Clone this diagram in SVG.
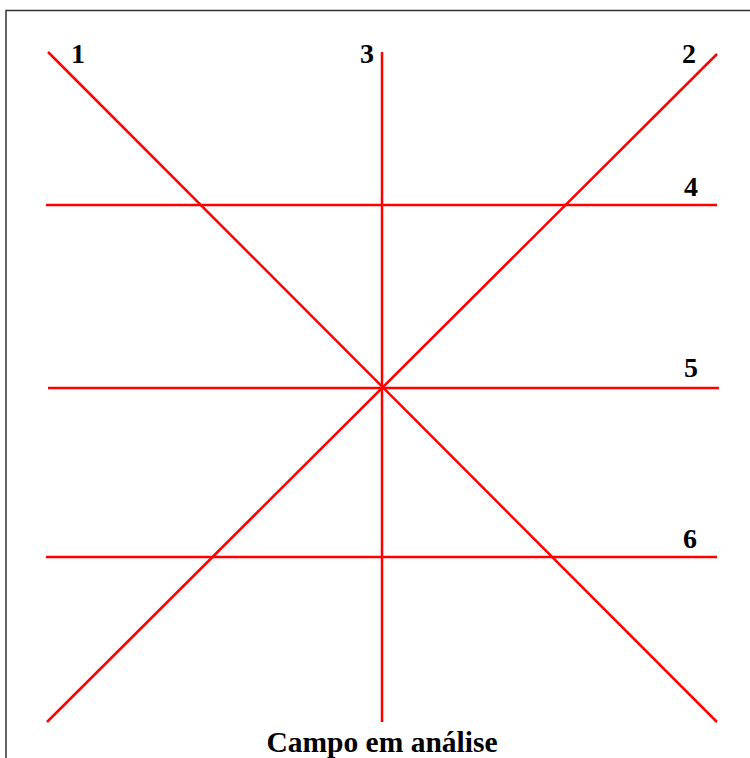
<svg xmlns="http://www.w3.org/2000/svg" width="750" height="758" viewBox="0 0 750 758">
<style>
.ln{stroke:#ff0000;stroke-width:2.5;fill:none}
.lb{font-family:"Liberation Serif",serif;font-weight:bold;font-size:28px;fill:#000}
.ttl{font-family:"Liberation Serif",serif;font-weight:bold;font-size:29.5px;fill:#000}
</style>
<rect width="750" height="758" fill="#fff"/>
<path d="M6 758V10.5H750" stroke="#333" stroke-width="1.5" fill="none"/>
<g id="connectors">
<line class="ln" x1="48" y1="52" x2="717" y2="722"/>
<line class="ln" x1="717" y1="54" x2="47" y2="722"/>
<line class="ln" x1="382" y1="52" x2="382" y2="722"/>
<line class="ln" x1="46" y1="205" x2="717" y2="205"/>
<line class="ln" x1="48" y1="388" x2="719" y2="388"/>
<line class="ln" x1="46" y1="557" x2="717" y2="557"/>
</g>
<g id="label1"><text class="lb" x="78" y="63" text-anchor="middle">1</text></g>
<g id="label3"><text class="lb" x="367" y="63" text-anchor="middle">3</text></g>
<g id="label2"><text class="lb" x="689" y="63" text-anchor="middle">2</text></g>
<g id="label4"><text class="lb" x="691" y="196" text-anchor="middle">4</text></g>
<g id="label5"><text class="lb" x="691" y="377" text-anchor="middle">5</text></g>
<g id="label6"><text class="lb" x="690" y="548" text-anchor="middle">6</text></g>
<g id="title"><text class="ttl" x="382" y="752" text-anchor="middle">Campo em análise</text></g>
</svg>
